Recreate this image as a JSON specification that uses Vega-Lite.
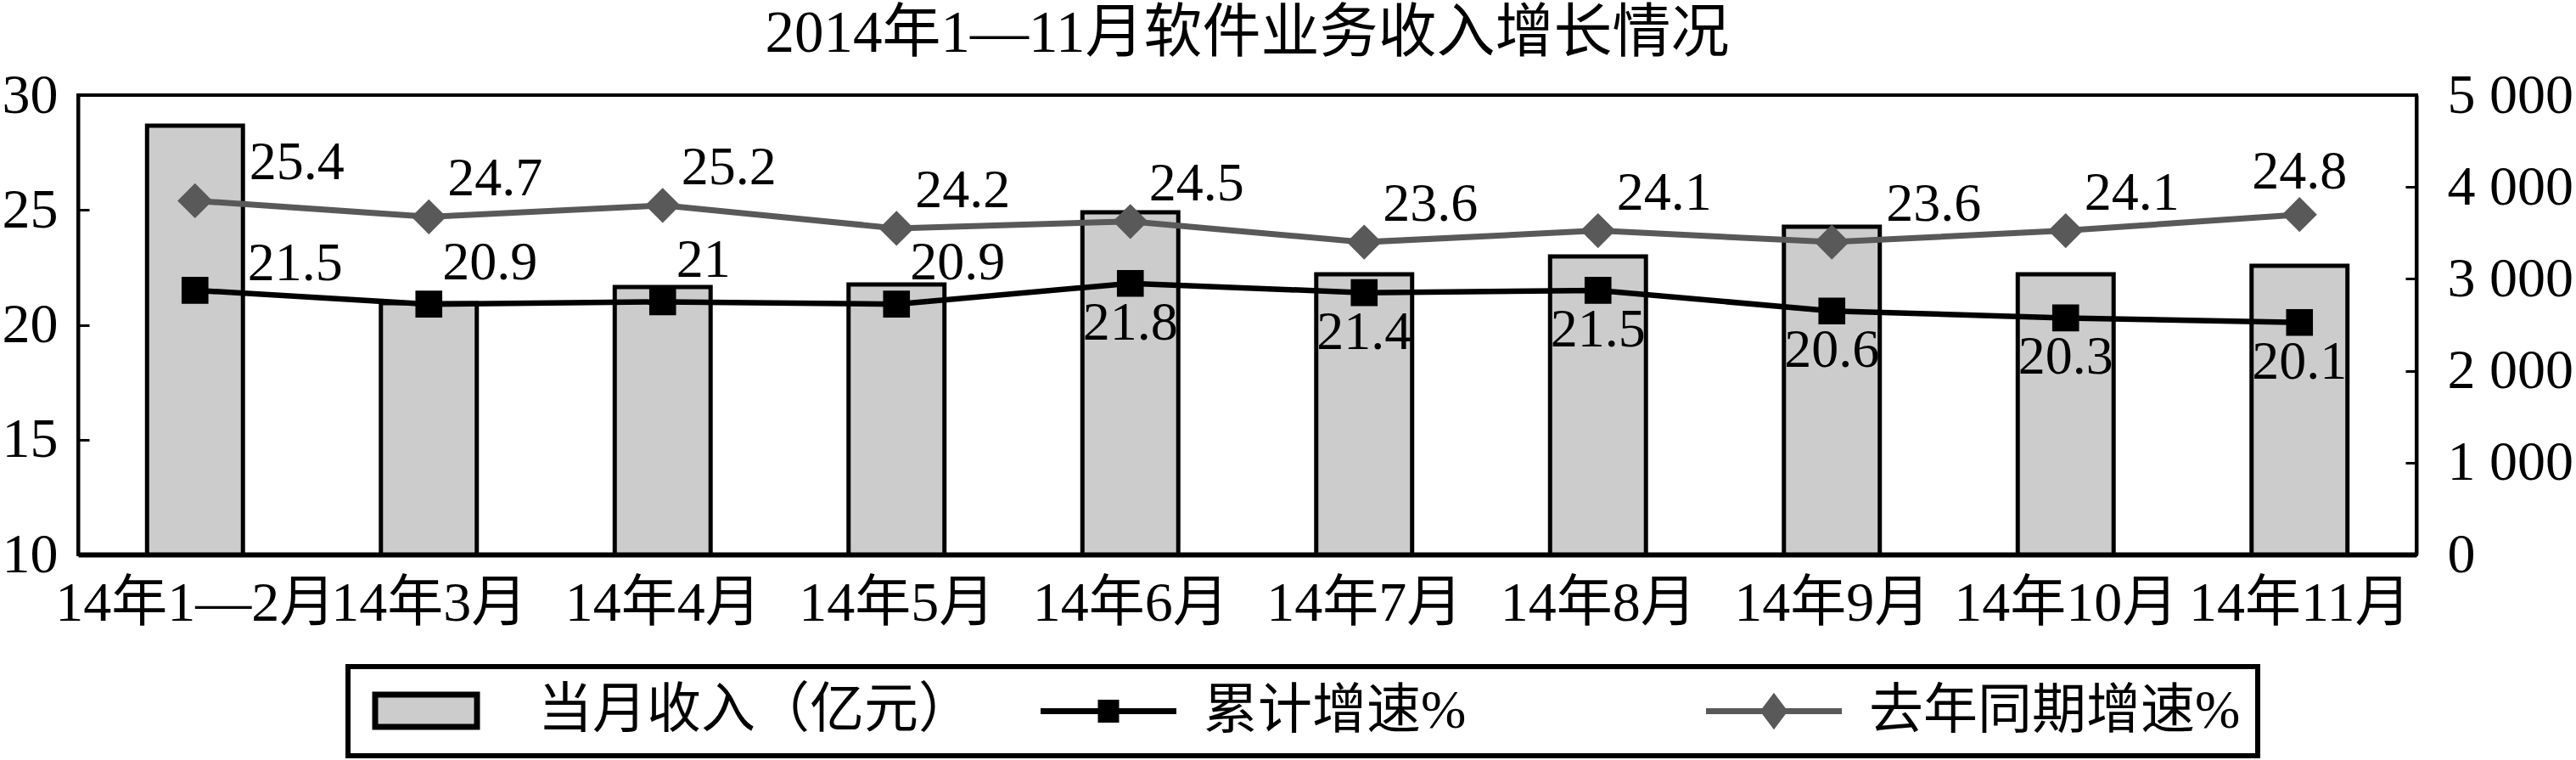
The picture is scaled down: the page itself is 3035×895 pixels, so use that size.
{
  "$schema": "https://vega.github.io/schema/vega-lite/v6.json",
  "width": 2755,
  "height": 541,
  "autosize": {"type": "none"},
  "padding": {"left": 92, "top": 112, "right": 188, "bottom": 242},
  "background": "white",
  "title": {
    "text": "2014年1—11月软件业务收入增长情况",
    "font": "Liberation Serif, Noto Sans CJK SC",
    "fontSize": 69,
    "fontWeight": "normal",
    "color": "black",
    "anchor": "middle",
    "offset": 4
  },
  "config": {
    "font": "Liberation Serif, Noto Sans CJK SC",
    "view": {"stroke": "black", "strokeWidth": 4},
    "legend": {"strokeColor": "black", "strokeWidth": 6},
    "axis": {
      "labelFont": "Liberation Serif, Noto Sans CJK SC",
      "labelFontSize": 66,
      "labelColor": "black",
      "domainColor": "black",
      "domainWidth": 4,
      "tickColor": "black",
      "tickWidth": 3,
      "grid": false
    }
  },
  "data": {
    "values": [
      {"month": "14年1—2月", "income": 4667, "cum": 21.5, "ly": 25.4},
      {"month": "14年3月", "income": 2736, "cum": 20.9, "ly": 24.7},
      {"month": "14年4月", "income": 2911, "cum": 21, "ly": 25.2},
      {"month": "14年5月", "income": 2939, "cum": 20.9, "ly": 24.2},
      {"month": "14年6月", "income": 3725, "cum": 21.8, "ly": 24.5},
      {"month": "14年7月", "income": 3050, "cum": 21.4, "ly": 23.6},
      {"month": "14年8月", "income": 3244, "cum": 21.5, "ly": 24.1},
      {"month": "14年9月", "income": 3567, "cum": 20.6, "ly": 23.6},
      {"month": "14年10月", "income": 3050, "cum": 20.3, "ly": 24.1},
      {"month": "14年11月", "income": 3142, "cum": 20.1, "ly": 24.8}
    ]
  },
  "layer": [
    {
      "mark": {"type": "bar", "strokeWidth": 5},
      "encoding": {
        "x": {
          "field": "month", "type": "nominal", "sort": null, "title": null,
          "scale": {"paddingInner": 0.59, "paddingOuter": 0.295},
          "axis": {"tickBand": "extent", "tickSize": -15, "labelPadding": 40, "labelOverlap": false, "labelLimit": 1000, "labelAngle": 0, "labelBaseline": "top", "domainWidth": 6}
        },
        "y": {
          "field": "income", "type": "quantitative", "title": null,
          "scale": {"domain": [0, 5000]},
          "axis": {"orient": "right", "values": [0, 1000, 2000, 3000, 4000, 5000], "tickSize": -13, "labelPadding": 49, "labelExpr": "replace(format(datum.value, ','), ',', ' ')"}
        },
        "color": {
          "datum": "当月收入（亿元）",
          "scale": {"domain": ["当月收入（亿元）", "累计增速%", "去年同期增速%"], "range": ["#cccccc", "#000000", "#595959"]},
          "legend": {
            "title": null,
            "orient": "none",
            "legendX": 318,
            "legendY": 673,
            "direction": "horizontal",
            "columns": 3,
            "gridAlign": "all",
            "columnPadding": 66,
            "symbolSize": 1600,
            "symbolStrokeWidth": 7,
            "symbolOpacity": 1,
            "labelOffset": 140,
            "labelFont": "Liberation Serif, Noto Sans CJK SC",
            "labelFontSize": 64,
            "labelColor": "black",
            "labelLimit": 1000,
            "padding": 20,
            "strokeColor": "black"
          }
        },
        "stroke": {
          "datum": "当月收入（亿元）",
          "scale": {"domain": ["当月收入（亿元）", "累计增速%", "去年同期增速%"], "range": ["#000000", "#000000", "#595959"]}
        }
      }
    },
    {
      "encoding": {
        "x": {"field": "month", "type": "nominal", "sort": null, "title": null}
      },
      "layer": [
        {
          "mark": {"type": "line", "strokeWidth": 7},
          "encoding": {
            "y": {"field": "ly", "type": "quantitative", "title": null, "scale": {"domain": [10, 30]}, "axis": {"orient": "left", "values": [10, 15, 20, 25, 30], "tickSize": -13, "labelPadding": 37}},
            "stroke": {"datum": "去年同期增速%"}
          }
        },
        {
          "mark": {"type": "point", "shape": "diamond", "size": 1700, "filled": true, "opacity": 1},
          "encoding": {
            "y": {"field": "ly", "type": "quantitative", "title": null, "scale": {"domain": [10, 30]}},
            "color": {"datum": "去年同期增速%"}
          }
        },
        {
          "mark": {"type": "line", "strokeWidth": 6.5},
          "encoding": {
            "y": {"field": "cum", "type": "quantitative", "title": null, "scale": {"domain": [10, 30]}},
            "stroke": {"datum": "累计增速%"}
          }
        },
        {
          "mark": {"type": "point", "shape": "square", "size": 1000, "filled": true, "opacity": 1},
          "encoding": {
            "y": {"field": "cum", "type": "quantitative", "title": null, "scale": {"domain": [10, 30]}},
            "color": {"datum": "累计增速%"}
          }
        },
        {
          "mark": {"type": "point", "size": 0, "filled": true, "strokeWidth": 7},
          "encoding": {
            "y": {"field": "cum", "type": "quantitative", "title": null, "scale": {"domain": [10, 30]}},
            "shape": {
              "datum": "累计增速%",
              "scale": {"domain": ["当月收入（亿元）", "累计增速%", "去年同期增速%"], "range": ["M-1,-0.95H5V0.95H-1Z", "M-1,0H7M2.55,-0.5H3.45V0.5H2.55Z", "M-1,0H7M3,-0.8L3.6,0L3,0.8L2.4,0Z"]}
            }
          }
        },
        {
          "transform": [{"filter": {"field": "month", "oneOf": ["14年1—2月", "14年9月"]}}],
          "mark": {"type": "text", "align": "left", "baseline": "middle", "dx": 64, "dy": -44, "fontSize": 64, "font": "Liberation Serif, Noto Sans CJK SC", "color": "black"},
          "encoding": {
            "y": {"field": "ly", "type": "quantitative", "title": null, "scale": {"domain": [10, 30]}},
            "text": {"field": "ly", "type": "nominal"}
          }
        },
        {
          "transform": [{"filter": {"field": "month", "oneOf": ["14年3月", "14年4月", "14年5月", "14年6月", "14年7月", "14年8月", "14年10月"]}}],
          "mark": {"type": "text", "align": "left", "baseline": "middle", "dx": 22, "dy": -44, "fontSize": 64, "font": "Liberation Serif, Noto Sans CJK SC", "color": "black"},
          "encoding": {
            "y": {"field": "ly", "type": "quantitative", "title": null, "scale": {"domain": [10, 30]}},
            "text": {"field": "ly", "type": "nominal"}
          }
        },
        {
          "transform": [{"filter": {"field": "month", "oneOf": ["14年11月"]}}],
          "mark": {"type": "text", "align": "center", "baseline": "middle", "dy": -50, "fontSize": 64, "font": "Liberation Serif, Noto Sans CJK SC", "color": "black"},
          "encoding": {
            "y": {"field": "ly", "type": "quantitative", "title": null, "scale": {"domain": [10, 30]}},
            "text": {"field": "ly", "type": "nominal"}
          }
        },
        {
          "transform": [{"filter": {"field": "month", "oneOf": ["14年1—2月"]}}],
          "mark": {"type": "text", "align": "left", "baseline": "middle", "dx": 62, "dy": -31, "fontSize": 64, "font": "Liberation Serif, Noto Sans CJK SC", "color": "black"},
          "encoding": {
            "y": {"field": "cum", "type": "quantitative", "title": null, "scale": {"domain": [10, 30]}},
            "text": {"field": "cum", "type": "nominal"}
          }
        },
        {
          "transform": [{"filter": {"field": "month", "oneOf": ["14年3月", "14年4月", "14年5月"]}}],
          "mark": {"type": "text", "align": "left", "baseline": "middle", "dx": 16, "dy": -48, "fontSize": 64, "font": "Liberation Serif, Noto Sans CJK SC", "color": "black"},
          "encoding": {
            "y": {"field": "cum", "type": "quantitative", "title": null, "scale": {"domain": [10, 30]}},
            "text": {"field": "cum", "type": "nominal"}
          }
        },
        {
          "transform": [{"filter": {"field": "month", "oneOf": ["14年6月", "14年7月", "14年8月", "14年9月", "14年10月", "14年11月"]}}],
          "mark": {"type": "text", "align": "center", "baseline": "middle", "dy": 47, "fontSize": 64, "font": "Liberation Serif, Noto Sans CJK SC", "color": "black"},
          "encoding": {
            "y": {"field": "cum", "type": "quantitative", "title": null, "scale": {"domain": [10, 30]}},
            "text": {"field": "cum", "type": "nominal"}
          }
        }
      ]
    }
  ],
  "resolve": {"scale": {"y": "independent"}}
}
